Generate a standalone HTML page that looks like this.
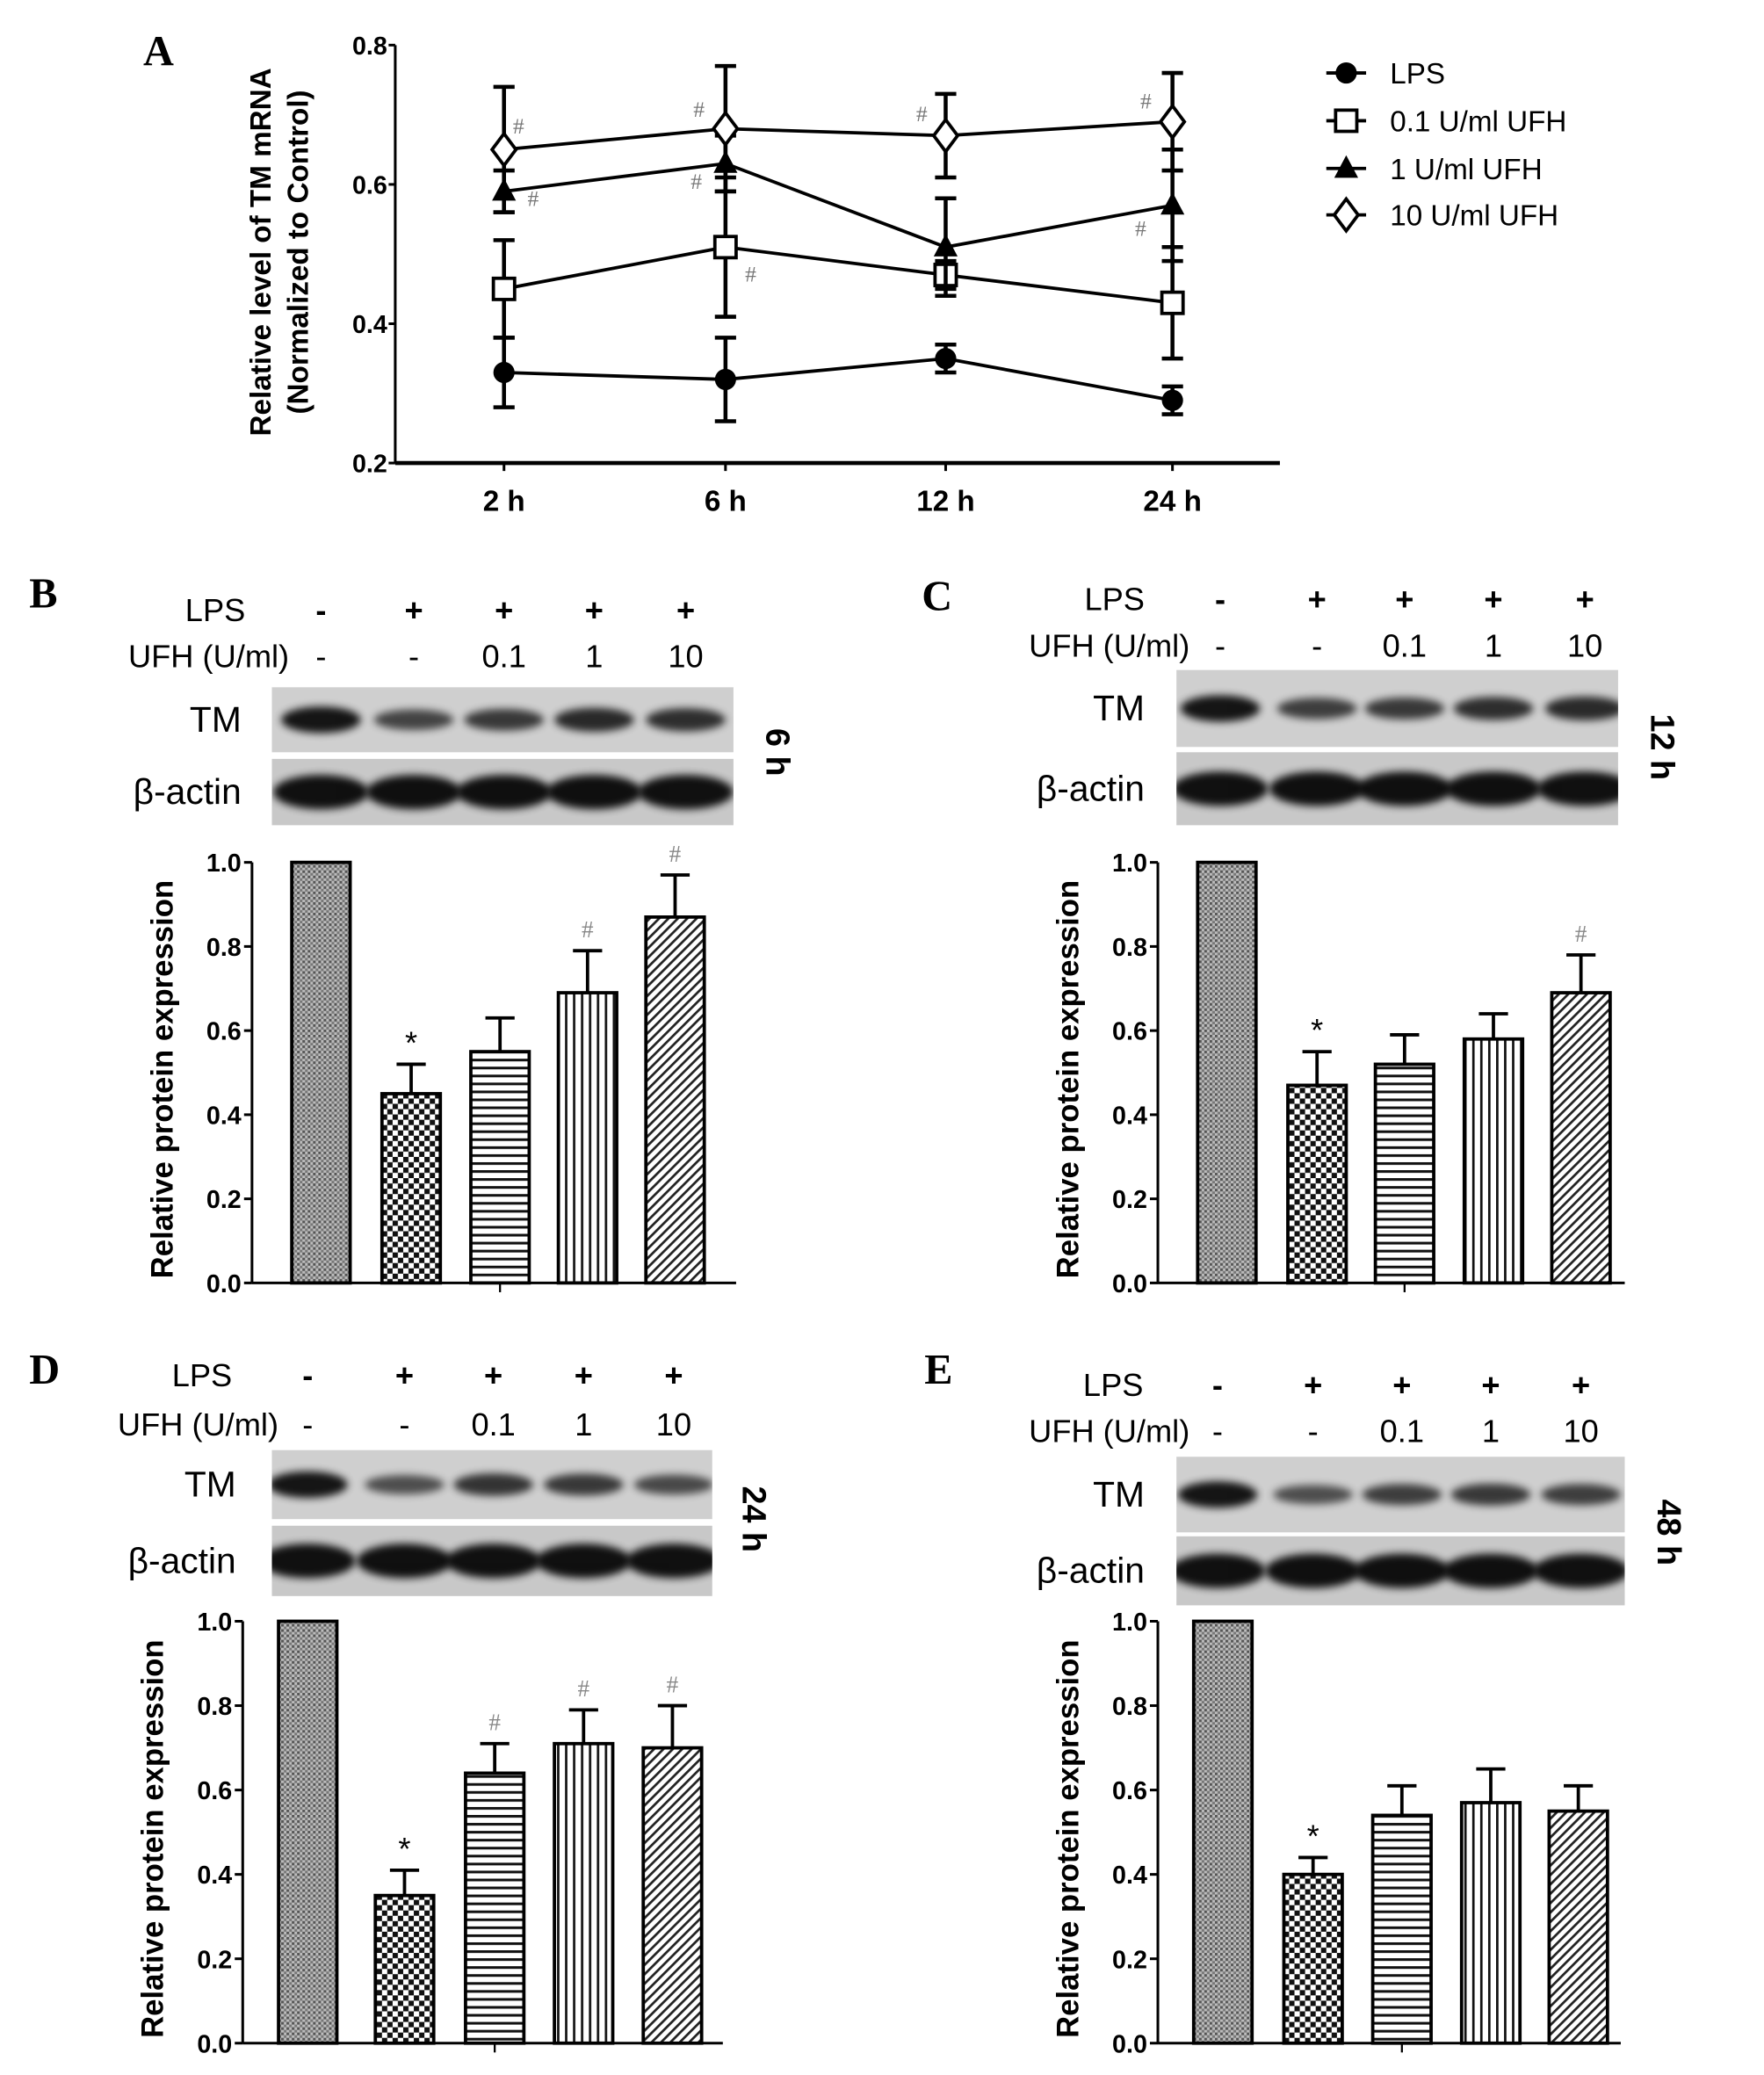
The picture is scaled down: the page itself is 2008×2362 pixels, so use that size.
<!DOCTYPE html>
<html><head><meta charset="utf-8"><style>
html,body{margin:0;padding:0;background:#fff;}
svg{display:block;}
text{font-family:"Liberation Sans",sans-serif;}
</style></head><body>
<svg id="fig" width="2008" height="2362" viewBox="0 0 1330 1564" preserveAspectRatio="none" xmlns="http://www.w3.org/2000/svg">
<defs>
<pattern id="p0" width="4" height="4" patternUnits="userSpaceOnUse"><rect width="4" height="4" fill="#bdbdbd"/><rect width="2" height="2" fill="#555"/><rect x="2" y="2" width="2" height="2" fill="#777"/></pattern>
<pattern id="p1" width="8" height="8" patternUnits="userSpaceOnUse"><rect width="8" height="8" fill="#fff"/><rect width="4" height="4" fill="#111"/><rect x="4" y="4" width="4" height="4" fill="#111"/></pattern>
<pattern id="p2" width="6" height="6" patternUnits="userSpaceOnUse"><rect width="6" height="6" fill="#fff"/><rect y="0" width="6" height="2" fill="#111"/></pattern>
<pattern id="p3" width="6" height="6" patternUnits="userSpaceOnUse"><rect width="6" height="6" fill="#fff"/><rect x="0" width="1.8" height="6" fill="#111"/></pattern>
<pattern id="p4" width="5" height="5" patternUnits="userSpaceOnUse" patternTransform="rotate(45)"><rect width="5" height="5" fill="#fff"/><rect width="1.8" height="5" fill="#222"/></pattern>
<filter id="blur" x="-20%" y="-50%" width="140%" height="200%"><feGaussianBlur stdDeviation="3"/></filter>
</defs>
</svg>
<script>
// ---------- Panel A data ----------
const timeLabels = ["2 h", "6 h", "12 h", "24 h"];
const seriesNames = ["LPS", "0.1 U/ml UFH", "1 U/ml UFH", "10 U/ml UFH"];
const lpsValues = [0.33, 0.32, 0.35, 0.29];
const lpsErr = [0.05, 0.06, 0.02, 0.02];
const ufh01Values = [0.45, 0.51, 0.47, 0.43];
const ufh01Err = [0.07, 0.10, 0.02, 0.08];
const ufh1Values = [0.59, 0.63, 0.51, 0.57];
const ufh1Err = [0.03, 0.04, 0.07, 0.08];
const ufh10Values = [0.65, 0.68, 0.67, 0.69];
const ufh10Err = [0.09, 0.09, 0.06, 0.07];
const aTicks = [0.2, 0.4, 0.6, 0.8];

// ---------- Bar panels data ----------
const laneLPS = ["-", "+", "+", "+", "+"];
const laneUFH = ["-", "-", "0.1", "1", "10"];
const barTicks = [0.0, 0.2, 0.4, 0.6, 0.8, 1.0];
const valuesB = [1.0, 0.45, 0.55, 0.69, 0.87];
const errB = [0, 0.07, 0.08, 0.10, 0.10];
const valuesC = [1.0, 0.47, 0.52, 0.58, 0.69];
const errC = [0, 0.08, 0.07, 0.06, 0.09];
const valuesD = [1.0, 0.35, 0.64, 0.71, 0.70];
const errD = [0, 0.06, 0.07, 0.08, 0.10];
const valuesE = [1.0, 0.40, 0.54, 0.57, 0.55];
const errE = [0, 0.04, 0.07, 0.08, 0.06];
const tmBandB = [1.0, 0.55, 0.65, 0.8, 0.75];
const tmBandC = [1.0, 0.6, 0.65, 0.75, 0.8];
const tmBandD = [1.0, 0.45, 0.7, 0.65, 0.5];
const tmBandE = [1.0, 0.45, 0.6, 0.65, 0.6];

const svg = document.getElementById('fig');
const defs = svg.querySelector('defs');
const NS = 'http://www.w3.org/2000/svg';
const SERIF = 'font-family:"Liberation Serif",serif';
function mk(tag, attrs, parent) {
  const e = document.createElementNS(NS, tag);
  for (const k in attrs) e.setAttribute(k, attrs[k]);
  (parent || svg).appendChild(e);
  return e;
}
function txt(s, attrs, parent) { const t = mk('text', attrs, parent); t.textContent = s; return t; }

// ---------- Panel A ----------
const gA = mk('g', {});


const ax0 = 298, ay0 = 349, ay1 = 34;
const catX = [380, 547, 713, 884];
function yA(v) { return ay0 - (v - 0.2) / 0.6 * (ay0 - ay1); }
const pl = txt('A', {x: 108, y: 49, style: SERIF, 'font-weight': 'bold', 'font-size': 32}, gA);


const yaxA = mk('line', {x1: ax0, y1: ay1, x2: ax0, y2: ay0, stroke: '#000', 'stroke-width': 2}, gA);


const xaxA = mk('line', {x1: ax0, y1: ay0, x2: 965, y2: ay0, stroke: '#000', 'stroke-width': 3}, gA);


aTicks.forEach(v => {
  mk('line', {x1: ax0 - 5, y1: yA(v), x2: ax0, y2: yA(v), stroke: '#000', 'stroke-width': 2}, gA);
  const t = txt(v.toFixed(1), {x: ax0 - 6, y: yA(v) + 7, 'text-anchor': 'end', 'font-size': 19, 'font-weight': 'bold'}, gA);
  
  
});
timeLabels.forEach((s, i) => {
  mk('line', {x1: catX[i], y1: ay0, x2: catX[i], y2: ay0 + 6, stroke: '#000', 'stroke-width': 2}, gA);
  const t = txt(s, {x: catX[i], y: 385, 'text-anchor': 'middle', 'font-size': 22, 'font-weight': 'bold'}, gA);
  
  
});
const yt1 = txt('Relative level of TM mRNA', {x: 0, y: 0, 'text-anchor': 'middle', 'font-size': 22, 'font-weight': 'bold', transform: `translate(204,190) rotate(-90)`}, gA);


const yt2 = txt('(Normalized to Control)', {x: 0, y: 0, 'text-anchor': 'middle', 'font-size': 22, 'font-weight': 'bold', transform: `translate(232,190) rotate(-90)`}, gA);



const allVals = [lpsValues, ufh01Values, ufh1Values, ufh10Values];
const allErr = [lpsErr, ufh01Err, ufh1Err, ufh10Err];
function marker(kind, x, y, parent) {
  if (kind === 0) return mk('circle', {cx: x, cy: y, r: 8, fill: '#000'}, parent);
  if (kind === 1) return mk('rect', {x: x - 8, y: y - 8, width: 16, height: 16, fill: '#fff', stroke: '#000', 'stroke-width': 2.5}, parent);
  if (kind === 2) return mk('polygon', {points: `${x},${y - 10} ${x + 9},${y + 7} ${x - 9},${y + 7}`, fill: '#000'}, parent);
  return mk('polygon', {points: `${x},${y - 12} ${x + 9},${y} ${x},${y + 12} ${x - 9},${y}`, fill: '#fff', stroke: '#000', 'stroke-width': 2.5}, parent);
}
allVals.forEach((vals, s) => {
  const g = mk('g', {}, gA);
  
  
  vals.forEach((v, i) => {
    const e = allErr[s][i];
    const eb = mk('path', {d: `M${catX[i]},${yA(v - e)}V${yA(v + e)}M${catX[i] - 8},${yA(v - e)}h16M${catX[i] - 8},${yA(v + e)}h16`, stroke: '#000', 'stroke-width': 3, fill: 'none'}, g);
    
    
  });
  const ln = mk('polyline', {points: vals.map((v, i) => `${catX[i]},${yA(v)}`).join(' '), fill: 'none', stroke: '#000', 'stroke-width': 2.5}, g);
  
  
  vals.forEach((v, i) => {
    const m = marker(s, catX[i], yA(v), g);
    
    
  });
});
// hash marks: [series, index, dx, dy]
const aHashes = [[3, 0, 11, -18], [2, 0, 22, 5], [3, 1, -20, -15], [2, 1, -22, 13], [1, 1, 19, 20], [3, 2, -18, -17], [3, 3, -20, -16], [2, 3, -24, 17]];
aHashes.forEach(h => {
  const t = txt('#', {x: catX[h[1]] + h[2], y: yA(allVals[h[0]][h[1]]) + h[3] + 6, 'text-anchor': 'middle', 'font-size': 17, fill: '#777', style: SERIF}, gA);
  
  
});
// legend
const legY = [55, 91, 127, 162];
seriesNames.forEach((n, s) => {
  const g = mk('g', {}, gA);
  
  
  mk('line', {x1: 1000, y1: legY[s], x2: 1030, y2: legY[s], stroke: '#000', 'stroke-width': 2.5}, g);
  marker(s, 1015, legY[s], g);
  txt(n, {x: 1048, y: legY[s] + 8, 'font-size': 22}, g);
});

// ---------- Bar panels ----------
const panels = [
  {id: 'b', letter: 'B', lx: 22, ly: 458, vals: valuesB, err: errB, tm: tmBandB, hashes: [3, 4],
   axX: 190, y0: 967, y1: 650, axEnd: 555, bars: [242, 310, 377, 443, 509], lanes: [242, 312, 380, 448, 517],
   lpsY: 468, ufhY: 503, hdrX: 185, ufhX: 218, blotX: 205, blotW: 348, tmY: 518, tmH: 49, acY: 572, acH: 50, lab: 182, time: '6 h', timeX: 578, ylabX: 130},
  {id: 'c', letter: 'C', lx: 695, ly: 460, vals: valuesC, err: errC, tm: tmBandC, hashes: [4],
   axX: 873, y0: 967, y1: 650, axEnd: 1225, bars: [925, 993, 1059, 1126, 1192], lanes: [920, 993, 1059, 1126, 1195],
   lpsY: 460, ufhY: 495, hdrX: 863, ufhX: 897, blotX: 887, blotW: 333, tmY: 505, tmH: 58, acY: 567, acH: 55, lab: 863, time: '12 h', timeX: 1245, ylabX: 813},
  {id: 'd', letter: 'D', lx: 22, ly: 1043, vals: valuesD, err: errD, tm: tmBandD, hashes: [2, 3, 4],
   axX: 183, y0: 1540, y1: 1222, axEnd: 545, bars: [232, 305, 373, 440, 507], lanes: [232, 305, 372, 440, 508],
   lpsY: 1045, ufhY: 1082, hdrX: 175, ufhX: 210, blotX: 205, blotW: 332, tmY: 1093, tmH: 52, acY: 1150, acH: 53, lab: 178, time: '24 h', timeX: 560, ylabX: 123},
  {id: 'e', letter: 'E', lx: 697, ly: 1043, vals: valuesE, err: errE, tm: tmBandE, hashes: [],
   axX: 873, y0: 1540, y1: 1222, axEnd: 1222, bars: [922, 990, 1057, 1124, 1190], lanes: [918, 990, 1057, 1124, 1192],
   lpsY: 1052, ufhY: 1087, hdrX: 862, ufhX: 897, blotX: 887, blotW: 338, tmY: 1098, tmH: 57, acY: 1158, acH: 52, lab: 863, time: '48 h', timeX: 1250, ylabX: 813}
];
panels.forEach(p => {
  const g = mk('g', {});
  
  
  const L = txt(p.letter, {x: p.lx, y: p.ly, style: SERIF, 'font-weight': 'bold', 'font-size': 32}, g);
  
  
  // header
  const h1 = txt('LPS', {x: p.hdrX, y: p.lpsY, 'text-anchor': 'end', 'font-size': 24}, g);
  
  
  const h2 = txt('UFH (U/ml)', {x: p.ufhX, y: p.ufhY, 'text-anchor': 'end', 'font-size': 24}, g);
  
  
  p.lanes.forEach((x, i) => {
    const a = txt(laneLPS[i], {x: x, y: p.lpsY, 'text-anchor': 'middle', 'font-size': 24, 'font-weight': 'bold'}, g);
    
    
    const b = txt(laneUFH[i], {x: x, y: p.ufhY, 'text-anchor': 'middle', 'font-size': 24}, g);
    
    
  });
  // blots with clipping
  const cp1 = mk('clipPath', {id: 'ct' + p.id}, defs);
  mk('rect', {x: p.blotX, y: p.tmY, width: p.blotW, height: p.tmH}, cp1);
  const cp2 = mk('clipPath', {id: 'ca' + p.id}, defs);
  mk('rect', {x: p.blotX, y: p.acY, width: p.blotW, height: p.acH}, cp2);
  const bt = mk('rect', {x: p.blotX, y: p.tmY, width: p.blotW, height: p.tmH, fill: '#cfcfcf'}, g);
  
  
  const ba = mk('rect', {x: p.blotX, y: p.acY, width: p.blotW, height: p.acH, fill: '#c8c8c8'}, g);
  
  
  const gt = mk('g', {'clip-path': `url(#ct${p.id})`}, g);
  const ga = mk('g', {'clip-path': `url(#ca${p.id})`}, g);
  p.lanes.forEach((x, i) => {
    const k = p.tm[i];
    mk('ellipse', {cx: x, cy: p.tmY + p.tmH / 2, rx: 30, ry: 5 + 5 * k, fill: '#000', opacity: 0.4 + 0.5 * k, filter: 'url(#blur)'}, gt);
    mk('ellipse', {cx: x, cy: p.acY + p.acH / 2, rx: 36, ry: 13, fill: '#000', opacity: 0.92, filter: 'url(#blur)'}, ga);
  });
  const t1 = txt('TM', {x: p.lab, y: p.tmY + p.tmH / 2 + 9, 'text-anchor': 'end', 'font-size': 27}, g);
  
  
  const t2 = txt('β-actin', {x: p.lab, y: p.acY + p.acH / 2 + 9, 'text-anchor': 'end', 'font-size': 27}, g);
  
  
  const tl = txt(p.time, {x: 0, y: 0, 'text-anchor': 'middle', 'font-size': 25, 'font-weight': 'bold', transform: `translate(${p.timeX},${p.tmY + p.tmH}) rotate(90)`}, g);
  
  
  // axes
  const yS = v => p.y0 - v * (p.y0 - p.y1);
  const ya = mk('line', {x1: p.axX, y1: p.y1, x2: p.axX, y2: p.y0, stroke: '#000', 'stroke-width': 2}, g);
  
  
  const xa = mk('line', {x1: p.axX, y1: p.y0, x2: p.axEnd, y2: p.y0, stroke: '#000', 'stroke-width': 2}, g);
  
  
  mk('line', {x1: p.bars[2], y1: p.y0, x2: p.bars[2], y2: p.y0 + 7, stroke: '#000', 'stroke-width': 1.5}, g);
  barTicks.forEach(v => {
    mk('line', {x1: p.axX - 6, y1: yS(v), x2: p.axX, y2: yS(v), stroke: '#000', 'stroke-width': 2}, g);
    const t = txt(v.toFixed(1), {x: p.axX - 8, y: yS(v) + 7, 'text-anchor': 'end', 'font-size': 19, 'font-weight': 'bold'}, g);
    
    
  });
  const yl = txt('Relative protein expression', {x: 0, y: 0, 'text-anchor': 'middle', 'font-size': 23, 'font-weight': 'bold', transform: `translate(${p.ylabX},${(p.y0 + p.y1) / 2 + 5}) rotate(-90)`}, g);
  
  
  p.vals.forEach((v, i) => {
    const x = p.bars[i], w = 44;
    const e = p.err[i];
    if (e > 0) {
      const eb = mk('path', {d: `M${x},${yS(v)}V${yS(v + e)}M${x - 11},${yS(v + e)}h22`, stroke: '#000', 'stroke-width': 2.5, fill: 'none'}, g);
      
      
    }
    const r = mk('rect', {x: x - w / 2, y: yS(v), width: w, height: yS(0) - yS(v), fill: `url(#p${i})`, stroke: '#000', 'stroke-width': 2.5}, g);
    
    
    if (i === 1) {
      const s = txt('*', {x: x, y: yS(v + e) - 8, 'text-anchor': 'middle', 'font-size': 24}, g);
      
      
    }
    if (p.hashes.indexOf(i) >= 0) {
      const s = txt('#', {x: x, y: yS(v + e) - 10, 'text-anchor': 'middle', 'font-size': 18, fill: '#888', style: SERIF}, g);
      
      
    }
  });
});
</script>
</body></html>
